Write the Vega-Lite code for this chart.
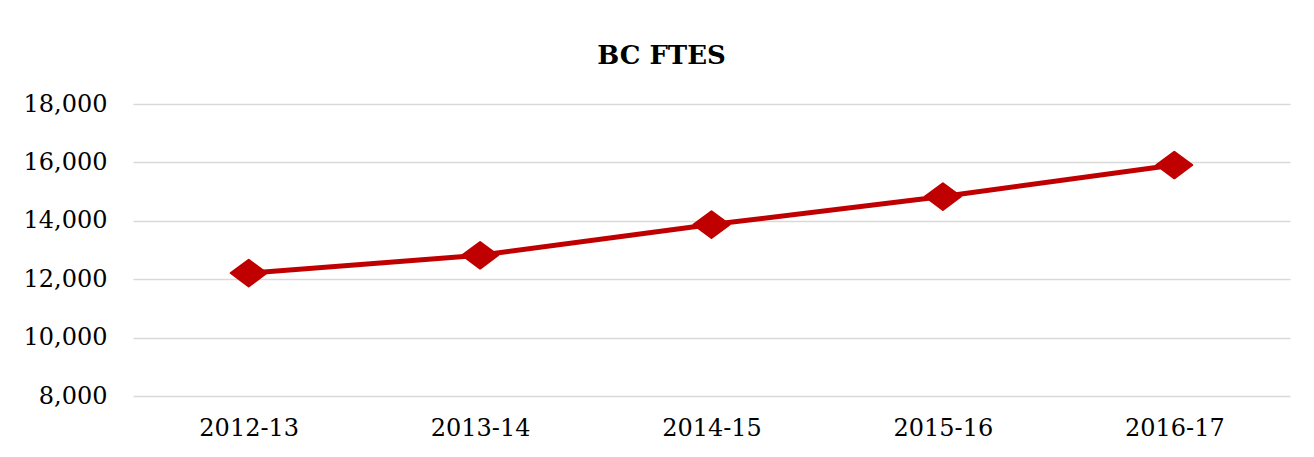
{
  "$schema": "https://vega.github.io/schema/vega-lite/v6.json",
  "autosize": "none",
  "width": 1157,
  "height": 292,
  "padding": {"left": 133, "top": 104, "right": 24, "bottom": 61},
  "background": "white",
  "title": {
    "text": "BC FTES",
    "font": "DejaVu Serif",
    "fontSize": 26,
    "fontWeight": "bold",
    "color": "#000000",
    "anchor": "middle",
    "frame": "group",
    "dx": -50,
    "baseline": "alphabetic",
    "offset": 2
  },
  "data": {
    "values": [
      {"year": "2012-13", "ftes": 12210},
      {"year": "2013-14", "ftes": 12820},
      {"year": "2014-15", "ftes": 13870},
      {"year": "2015-16", "ftes": 14830},
      {"year": "2016-17", "ftes": 15910}
    ]
  },
  "encoding": {
    "x": {
      "field": "year",
      "type": "nominal",
      "sort": null,
      "title": null,
      "axis": {
        "labelAngle": 0,
        "ticks": false,
        "domain": false,
        "grid": false,
        "labelFont": "DejaVu Serif",
        "labelFontSize": 24,
        "labelColor": "#000000",
        "labelPadding": 20
      }
    },
    "y": {
      "field": "ftes",
      "type": "quantitative",
      "title": null,
      "scale": {"domain": [8000, 18000], "nice": false, "zero": false},
      "axis": {
        "values": [8000, 10000, 12000, 14000, 16000, 18000],
        "format": ",d",
        "ticks": false,
        "domain": false,
        "grid": true,
        "gridColor": "#d9d9d9",
        "gridWidth": 1.5,
        "labelFont": "DejaVu Serif",
        "labelFontSize": 24,
        "labelColor": "#000000",
        "labelPadding": 26
      }
    }
  },
  "layer": [
    {
      "mark": {"type": "line", "color": "#c00000", "strokeWidth": 5, "strokeCap": "round"}
    },
    {
      "mark": {
        "type": "point",
        "shape": "M-1,0L0,-0.74L1,0L0,0.74Z",
        "size": 1296,
        "filled": true,
        "opacity": 1,
        "color": "#c00000",
        "stroke": "#c00000",
        "strokeWidth": 2,
        "strokeJoin": "round"
      }
    }
  ],
  "config": {"view": {"stroke": null}}
}
